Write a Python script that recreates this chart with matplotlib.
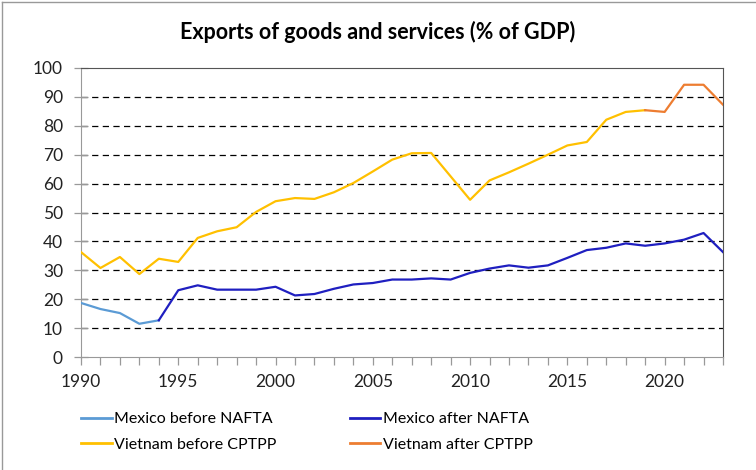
import matplotlib.pyplot as plt
from matplotlib.lines import Line2D

# Exports of goods and services, % of GDP
years = list(range(1990, 2024))
mexico = [18.7, 16.6, 15.2, 11.5, 12.7, 23.1, 24.8, 23.3, 23.3, 23.3,
          24.3, 21.3, 21.8, 23.6, 25.1, 25.6, 26.8, 26.8, 27.2, 26.8,
          29.1, 30.6, 31.7, 30.9, 31.7, 34.3, 37.0, 37.8, 39.3, 38.5,
          39.3, 40.6, 42.9, 36.3]
vietnam = [36.3, 30.8, 34.6, 28.7, 34.0, 32.9, 41.2, 43.5, 44.9, 50.2,
           53.9, 55.0, 54.7, 57.0, 60.2, 64.2, 68.3, 70.5, 70.6, 62.5,
           54.4, 61.1, 63.9, 66.9, 70.0, 73.2, 74.4, 82.1, 84.8, 85.4,
           84.8, 94.2, 94.2, 87.3]
nafta_year = 1994
cptpp_year = 2019

c_mex_before = '#5B9BD5'
c_mex_after = '#1F1FC0'
c_vn_before = '#FFC000'
c_vn_after = '#ED7D31'

plt.rcParams['font.family'] = ['Lato', 'DejaVu Sans']

fig = plt.figure(figsize=(7.56, 4.70), dpi=100)
ax = fig.add_axes([81 / 756, 1 - 357 / 470, (723 - 81) / 756, (357 - 68) / 470])

i_n = years.index(nafta_year)
i_c = years.index(cptpp_year)
lw = 1.6
ax.plot(years[:i_n + 1], mexico[:i_n + 1], color=c_mex_before, lw=lw, zorder=3)
ax.plot(years[i_n:], mexico[i_n:], color=c_mex_after, lw=lw, zorder=3)
ax.plot(years[:i_c + 1], vietnam[:i_c + 1], color=c_vn_before, lw=lw, zorder=3)
ax.plot(years[i_c:], vietnam[i_c:], color=c_vn_after, lw=lw, zorder=3)

ax.set_xlim(1990, 2023)
ax.set_ylim(0, 100)
ax.set_yticks(range(0, 101, 10))
ax.set_xticks(range(1990, 2021, 5))
ax.set_xticks(years, minor=True)
for y in range(10, 100, 10):
    ax.axhline(y, color='black', lw=0.9, ls=(0, (5, 3.5)), zorder=1)

for side in ['left', 'bottom']:
    ax.spines[side].set_color('#999999')
for side in ['top', 'right']:
    ax.spines[side].set_color('#555555')
ax.tick_params(axis='y', which='major', direction='inout', length=10, width=0.9,
               color='#999999', labelsize=12.5, pad=8)
ax.tick_params(axis='x', which='both', direction='out', length=6, width=0.9,
               color='#999999', labelsize=12.5, pad=6)
for lab in ax.get_xticklabels() + ax.get_yticklabels():
    lab.set_color('#222222')

fig.text(0.5, 1 - 32 / 470, 'Exports of goods and services (% of GDP)',
         ha='center', va='center', fontsize=15.5, fontweight='bold')

handles = [Line2D([], [], color=c_mex_before, lw=2),
           Line2D([], [], color=c_vn_before, lw=2),
           Line2D([], [], color=c_mex_after, lw=2),
           Line2D([], [], color=c_vn_after, lw=2)]
labels = ['Mexico before NAFTA', 'Vietnam before CPTPP',
          'Mexico after NAFTA', 'Vietnam after CPTPP']
fig.legend(handles, labels, ncol=2, loc='upper left',
           bbox_to_anchor=(70 / 756, 1 - 401 / 470), frameon=False,
           fontsize=11.5, handlelength=1.9, handletextpad=0.15,
           columnspacing=4.6, labelspacing=0.72, borderpad=0.2)

# thin outer frame on the top and left
fig.add_artist(Line2D([2 / 756, 1], [1 - 2 / 470, 1 - 2 / 470],
                      transform=fig.transFigure, color='#999999', lw=1))
fig.add_artist(Line2D([2 / 756, 2 / 756], [0, 1 - 2 / 470],
                      transform=fig.transFigure, color='#999999', lw=1))

fig.savefig('out.png', dpi=100)
